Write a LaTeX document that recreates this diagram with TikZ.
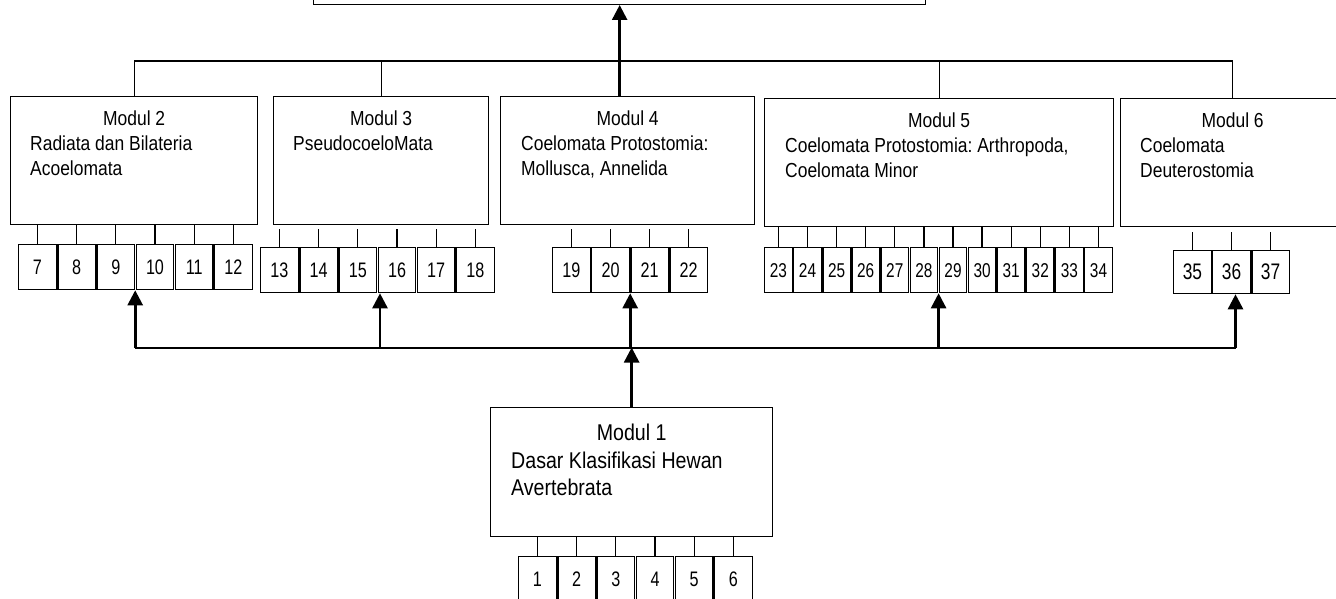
\documentclass[tikz,border=0pt]{standalone}
\usepackage{fontspec}
\setmainfont{Liberation Sans}[FakeStretch=0.86]
\newfontfamily\numfont{Liberation Sans}[FakeStretch=0.77]
\usetikzlibrary{calc,arrows.meta}
\frenchspacing

\tikzset{
  modbox/.style={draw, line width=1.3pt, anchor=north west, inner sep=0pt},
  modhead/.style={anchor=base, inner sep=0pt, font=\fontsize{20.3}{24.5}\selectfont},
  modtext/.style={anchor=north west, inner sep=0pt, align=left, font=\fontsize{20.3}{24.5}\selectfont},
  numbox/.style={draw, line width=1.3pt, anchor=north west, inner sep=0pt,
    minimum width=37.5pt, minimum height=45pt, font=\numfont\fontsize{21}{21}\selectfont},
  tick/.style={line width=1.3pt},
  bus/.style={line width=2pt},
  uparrow/.style={line width=2.6pt, -{Triangle[width=15pt,length=15pt]}},
}

\begin{document}
\begin{tikzpicture}[x=1pt, y=-1pt]
  \useasboundingbox (0,0) rectangle (1336,599);
  \clip (0,0) rectangle (1336,599);
  % top box, cut off by the page edge
  \node[modbox, anchor=south west, minimum width=612pt, minimum height=80pt] (top) at (313,5) {};

  % module boxes
  \node[modbox, minimum width=247pt, minimum height=128pt] (m2) at (10,96) {};
  \node[modbox, minimum width=215pt, minimum height=128pt] (m3) at (273,96) {};
  \node[modbox, minimum width=254pt, minimum height=128pt] (m4) at (500,96) {};
  \node[modbox, minimum width=349pt, minimum height=128pt] (m5) at (764,98) {};
  \node[modbox, minimum width=224pt, minimum height=128pt] (m6) at (1120,98) {};
  \node[modbox, minimum width=282pt, minimum height=129pt] (m1) at (490,407) {};

  % module texts
  \node[modhead] (m2h) at ($(m2.north)+(0,30)$) {Modul 2};
  \node[modtext] (m2t) at ($(m2.north west)+(20,39.7)$) {Radiata dan Bilateria\\Acoelomata};
  \node[modhead] (m3h) at ($(m3.north)+(0,30)$) {Modul 3};
  \node[modtext] (m3t) at ($(m3.north west)+(20,39.7)$) {PseudocoeloMata};
  \node[modhead] (m4h) at ($(m4.north)+(0,30)$) {Modul 4};
  \node[modtext] (m4t) at ($(m4.north west)+(21,39.7)$) {Coelomata Protostomia:\\Mollusca, Annelida};
  \node[modhead] (m5h) at ($(m5.north)+(0,30)$) {Modul 5};
  \node[modtext] (m5t) at ($(m5.north west)+(21,39.7)$) {Coelomata Protostomia: Arthropoda,\\Coelomata Minor};
  \node[modhead] (m6h) at ($(m6.north)+(0,30)$) {Modul 6};
  \node[modtext] (m6t) at ($(m6.north west)+(20,39.7)$) {Coelomata\\Deuterostomia};
  \node[modhead, font=\fontsize{22.8}{27.5}\selectfont] (m1h) at ($(m1.north)+(0,33)$) {Modul 1};
  \node[modtext, font=\fontsize{22.8}{27.5}\selectfont] (m1t) at ($(m1.north west)+(21,44.4)$) {Dasar Klasifikasi Hewan\\Avertebrata};

  % numbered boxes
  \foreach \n [count=\i from 0] in {1,...,6}
    \node[numbox] (n\n) at (518+39.2*\i,556) {\n};
  \foreach \n [count=\i from 0] in {7,...,12}
    \node[numbox] (n\n) at (18+39.2*\i,244) {\n};
  \foreach \n [count=\i from 0] in {13,...,18}
    \node[numbox] (n\n) at (260+39.2*\i,247) {\n};
  \foreach \n [count=\i from 0] in {19,...,22}
    \node[numbox] (n\n) at (552+39.1*\i,247) {\n};
  \foreach \n [count=\i from 0] in {23,...,34}
    \node[numbox, minimum width=27.5pt, font=\numfont\fontsize{20}{20}\selectfont] (n\n) at (764+29.1*\i,247) {\raisebox{-5pt}{\n}};
  \foreach \n [count=\i from 0] in {35,...,37}
    \node[numbox, minimum height=43pt, font=\numfont\fontsize{22.5}{22.5}\selectfont] (n\n) at (1173+39.1*\i,250) {\n};

  % ticks from the modules to their boxes
  \foreach \n in {1,...,6} \draw[tick] (n\n.north) -- (n\n.north |- m1.south);
  \foreach \n in {7,...,12} \draw[tick] (n\n.north) -- (n\n.north |- m2.south);
  \foreach \n in {13,...,18} \draw[tick] (n\n.north) -- ($(n\n.north |- m3.south)+(0,4)$);
  \foreach \n in {19,...,22} \draw[tick] (n\n.north) -- ($(n\n.north |- m4.south)+(0,4)$);
  \foreach \n in {23,...,34} \draw[tick] (n\n.north) -- (n\n.north |- m5.south);
  \foreach \n in {35,...,37} \draw[tick] (n\n.north) -- ($(n\n.north |- m6.south)+(0,5)$);

  % upper bus and arrow to the top box
  \coordinate (busT) at (0,61);
  \draw[tick] (m2.north) |- (m6.north |- busT) -- (m6.north);
  \foreach \m in {m3,m5} \draw[tick] (\m.north) -- (\m.north |- busT);
  \draw[uparrow] (top.south |- m4.north) -- (top.south);

  % lower bus from Modul 1
  \coordinate (busB) at (0,347.5);
  \coordinate (a16) at ($(n16.south west)+(2.4,0)$);
  \coordinate (a36) at ($(n36.south)+(4,0)$);
  \draw[bus] (n9.south east |- busB) -- (a36 |- busB);
  \foreach \a in {n9.south east, a16, n21.south west, n29.south west, a36}
    \draw[uparrow] (\a |- busB) -- (\a);
  \draw[uparrow] (m1.north) -- (m1.north |- busB);
\end{tikzpicture}
\end{document}
